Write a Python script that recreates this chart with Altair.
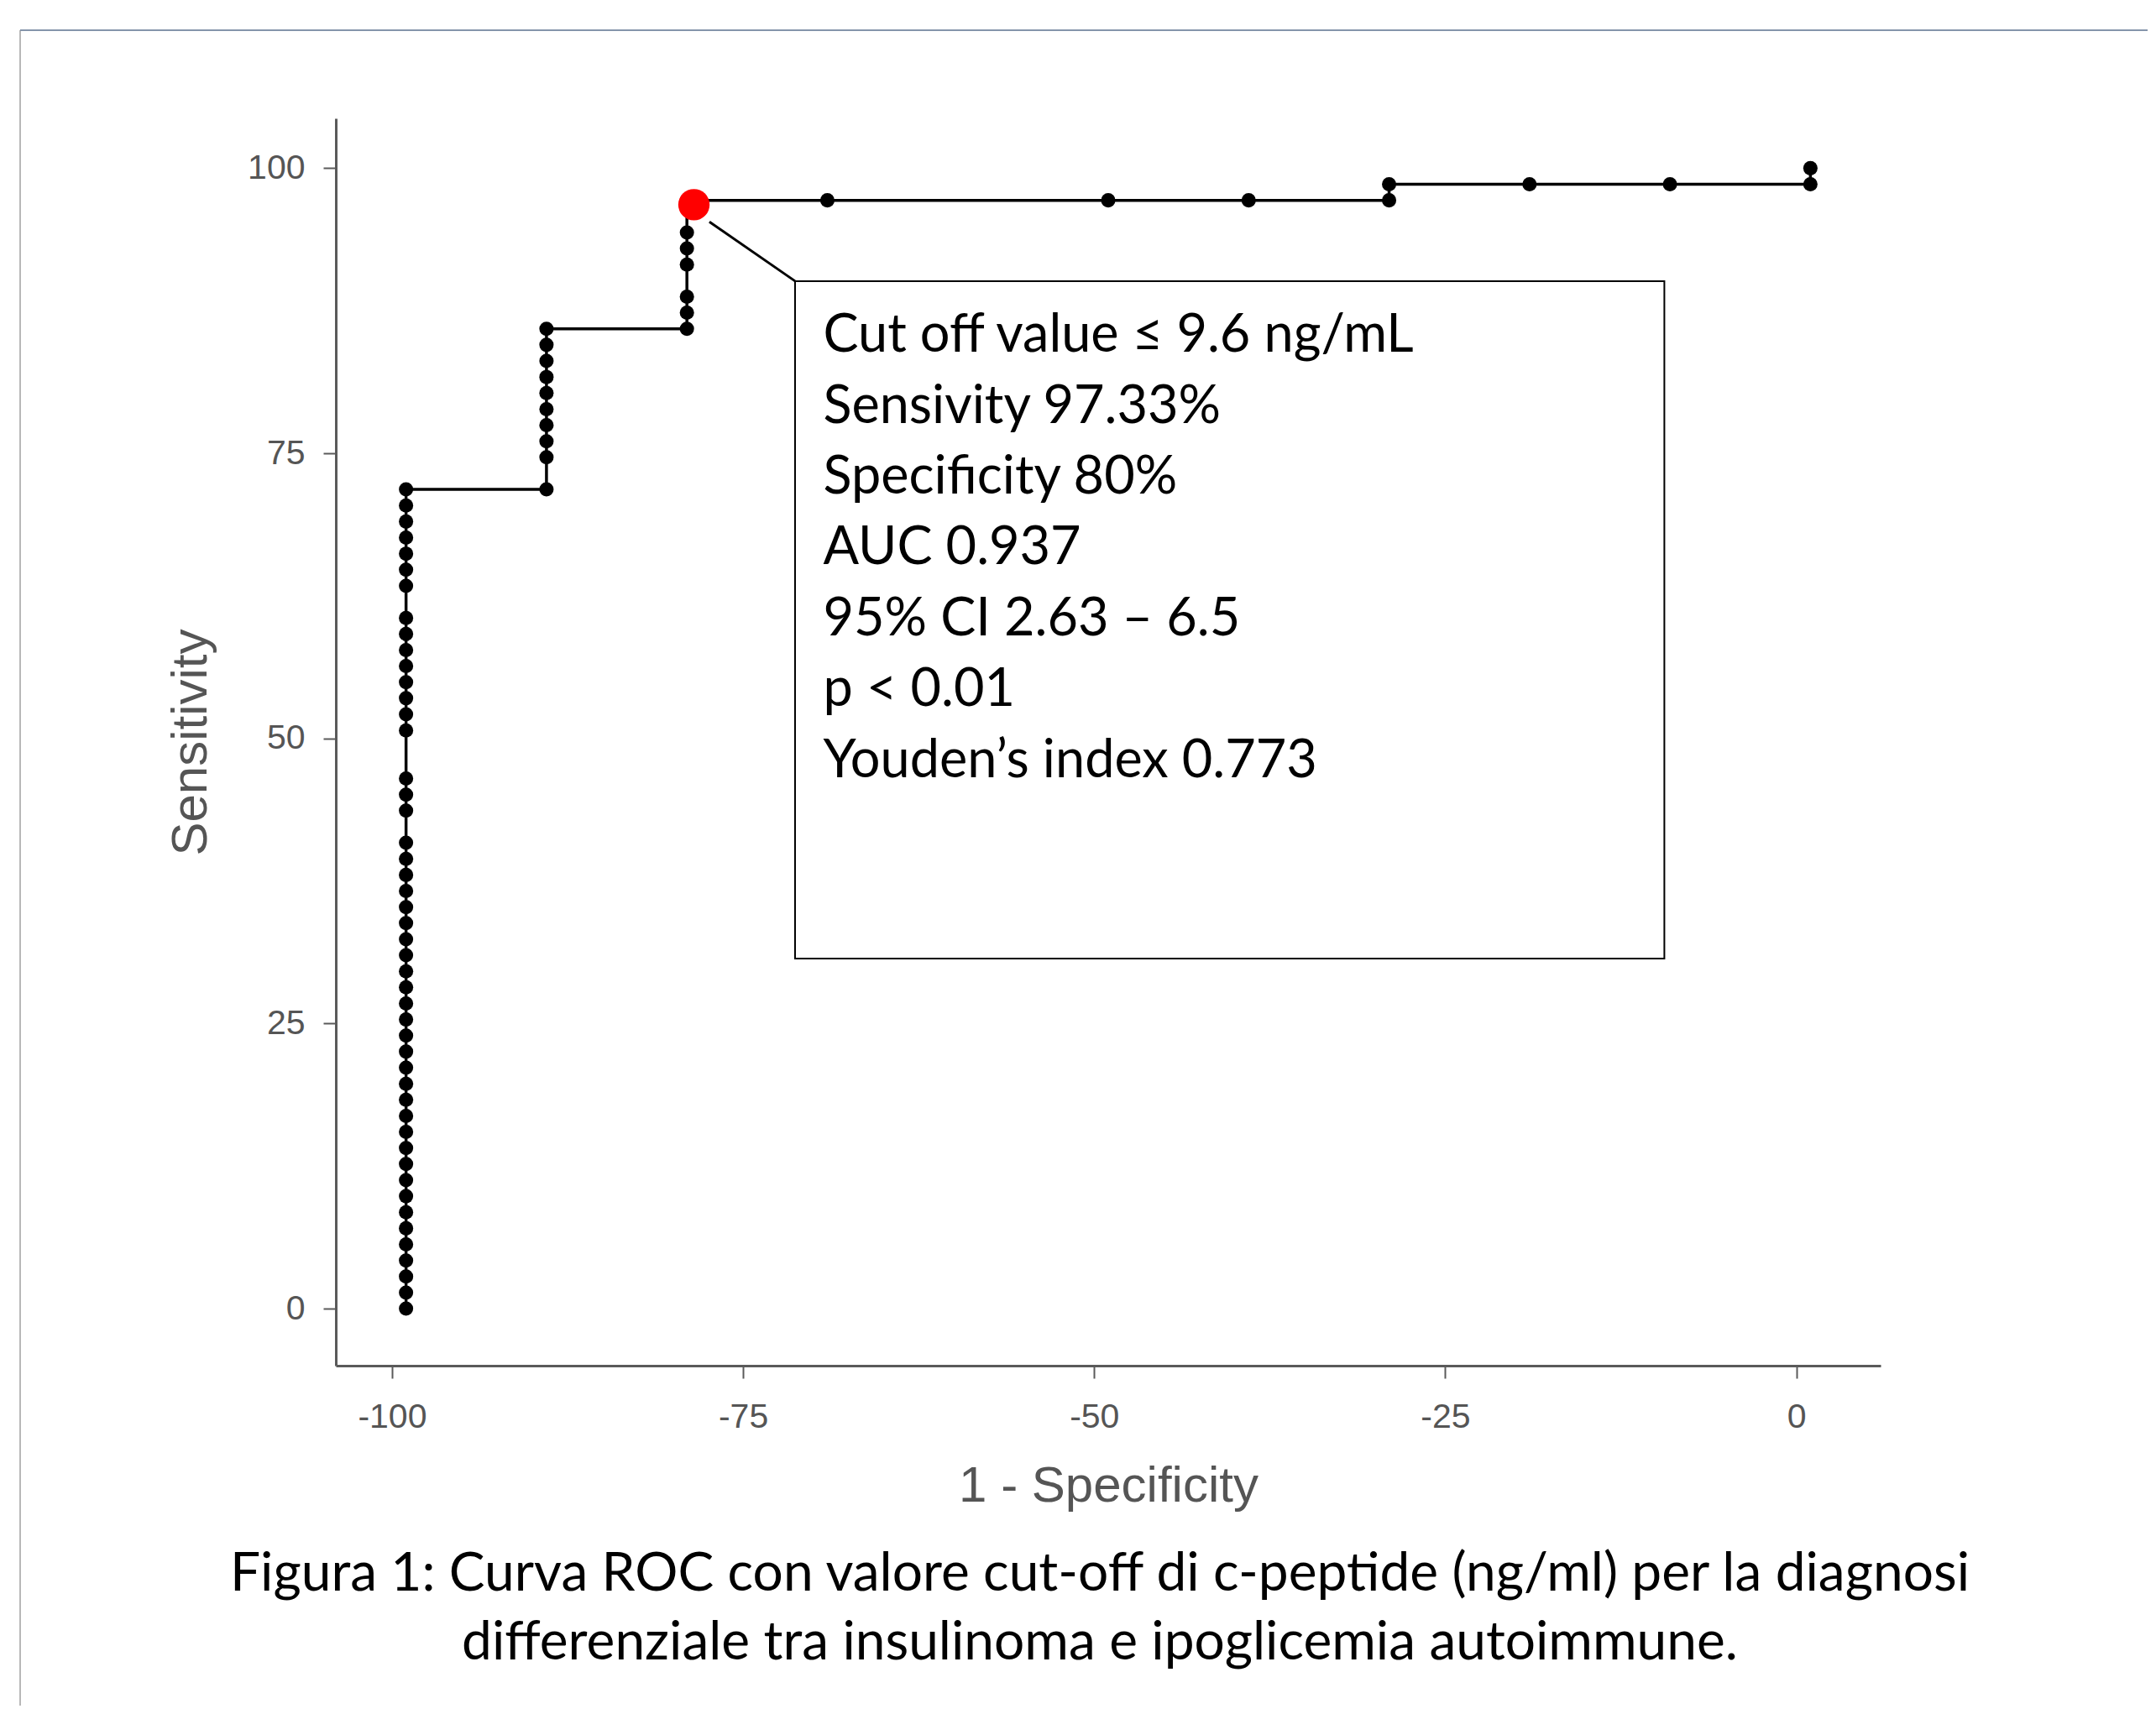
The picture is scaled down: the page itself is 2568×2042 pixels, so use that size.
import altair as alt
import pandas as pd

# ---------------- data ----------------
N_POSITIVE = 71                       # step height of the curve = 100/71 %
STEP_X = [-99, -89, -79, -69, -49, -39, -29, -19, -9, 1]   # "1 - Specificity" of each column
STEP_TP = [                           # true-positive counts of the dots in each column
    [0, 1, 2, 3, 4, 5, 6, 7, 8, 9, 10, 11, 12, 13, 14, 15, 16, 17, 18, 19,
     20, 21, 22, 23, 24, 25, 26, 27, 28, 29, 31, 32, 33, 36, 37, 38, 39,
     40, 41, 42, 43, 45, 46, 47, 48, 49, 50, 51],
    [51, 53, 54, 55, 56, 57, 58, 59, 60, 61],
    [61, 62, 63, 65, 66, 67, 69],
    [69],
    [69],
    [69],
    [69, 70],
    [70],
    [70],
    [70, 71],
]
CUTOFF_X = -78.5      # red optimal cut-off marker
CUTOFF_SENS = 96.8

X_TICKS = [-100, -75, -50, -25, 0]
Y_TICKS = [0, 25, 50, 75, 100]

ANNOTATION_LINES = [
    "Cut off value \u2264 9.6 ng/mL",
    "Sensivity 97.33%",
    "Specificity 80%",
    "AUC 0.937",
    "95% CI 2.63 \u2013 6.5",
    "p < 0.01",
    "Youden\u2019s  index 0.773",
]
CAPTION_LINES = [
    "Figura 1: Curva ROC con valore cut-off di c-peptide (ng/ml) per la diagnosi",
    "differenziale tra insulinoma e ipoglicemia autoimmune.",
]

# annotation box / leader line in data units
BOX_X = [-71.3, -9.4]
BOX_Y = [30.7, 90.1]
LEADER_START = [-77.4, 95.3]
TEXT_ANCHOR = [-69.3, 83.9]

# ---------------- tables ----------------
rows = []
for x, tps in zip(STEP_X, STEP_TP):
    for tp in tps:
        rows.append({"order": len(rows), "fpr": x, "sens": tp * 100.0 / N_POSITIVE})
curve = pd.DataFrame(rows)
cut = pd.DataFrame({"fpr": [CUTOFF_X], "sens": [CUTOFF_SENS]})
leader = pd.DataFrame({"fpr": [LEADER_START[0]], "sens": [LEADER_START[1]],
                       "fpr_end": [BOX_X[0]], "sens_end": [BOX_Y[1]]})
box = pd.DataFrame({"fpr": [BOX_X[0]], "fpr_end": [BOX_X[1]],
                    "sens": [BOX_Y[0]], "sens_end": [BOX_Y[1]]})
anchor = pd.DataFrame({"fpr": [TEXT_ANCHOR[0]], "sens": [TEXT_ANCHOR[1]]})
one = pd.DataFrame({"k": [0]})

W, H = 1840, 1486
X_DOMAIN = [-104, 6]
Y_DOMAIN = [-5, -5 + H / 13.587]

AXIS_COMMON = dict(
    grid=False,
    domainColor="#5a5a5a", domainWidth=3,
    tickColor="#5a5a5a", tickWidth=2, tickSize=15,
    labelColor="#555555", labelFont="Liberation Sans", labelFontSize=41,
    titleColor="#555555", titleFont="Liberation Sans", titleFontSize=60,
    titleFontWeight="normal",
)
x_axis = alt.Axis(values=X_TICKS, labelExpr="toString(datum.value)",
                  labelPadding=26, titlePadding=33, **AXIS_COMMON)
y_axis = alt.Axis(values=Y_TICKS, labelPadding=22, titlePadding=36, **AXIS_COMMON)

X = alt.X("fpr:Q", scale=alt.Scale(domain=X_DOMAIN, nice=False, zero=False),
          axis=x_axis, title="1 - Specificity")
Y = alt.Y("sens:Q", scale=alt.Scale(domain=Y_DOMAIN, nice=False, zero=False),
          axis=y_axis, title="Sensitivity")

line = alt.Chart(curve).mark_line(color="black", strokeWidth=3.5).encode(
    x=X, y=Y, order="order:Q")
dots = alt.Chart(curve).mark_circle(color="black", size=290, opacity=1).encode(x=X, y=Y)
red = alt.Chart(cut).mark_circle(color="#ff0000", size=1400, opacity=1).encode(x=X, y=Y)
lead = alt.Chart(leader).mark_rule(color="black", strokeWidth=3).encode(
    x=X, y=Y, x2="fpr_end:Q", y2="sens_end:Q")
rect = alt.Chart(box).mark_rect(fill="white", stroke="black", strokeWidth=2).encode(
    x=X, y=Y, x2="fpr_end:Q", y2="sens_end:Q")
ann = alt.Chart(anchor).mark_text(
    text=ANNOTATION_LINES, align="left", baseline="alphabetic",
    lineHeight=84.4, font="Lato", fontSize=63, color="black").encode(x=X, y=Y)

# figure frame (top and left border of the figure) and caption, in pixels
frame_left = alt.Chart(one).mark_rule(color="#b8b8b8", strokeWidth=2).encode(
    x=alt.value(-376), y=alt.value(-105), y2=alt.value(1891))
frame_top = alt.Chart(one).mark_rule(color="#8595ab", strokeWidth=2).encode(
    x=alt.value(-376), x2=alt.value(2158), y=alt.value(-105))
caption = alt.Chart(one).mark_text(
    text=CAPTION_LINES, align="center", baseline="alphabetic",
    lineHeight=82, font="Lato", fontSize=64, color="black").encode(
    x=alt.value(910), y=alt.value(1754))

chart = alt.layer(
    frame_left, frame_top, line, dots, lead, rect, red, ann, caption
).properties(
    width=W, height=H, background="white",
    padding={"left": 15, "top": 27, "right": 0, "bottom": 0},
).configure_view(stroke=None)

chart.save("out.html", embed_options={"renderer": "svg", "actions": False})
